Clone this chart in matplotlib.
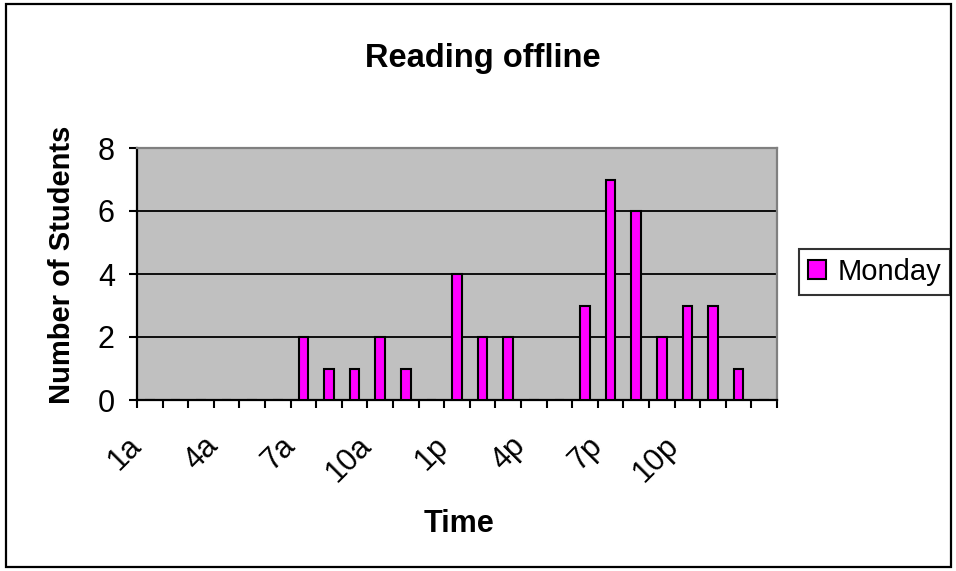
import matplotlib.pyplot as plt
from matplotlib.patches import Rectangle
from matplotlib.transforms import ScaledTranslation
import numpy as np

plt.rcParams['font.family'] = ['Liberation Sans', 'DejaVu Sans']

# one slot per hour of the day, plus an empty slot at the end
hours = ['1a', '2a', '3a', '4a', '5a', '6a', '7a', '8a', '9a', '10a', '11a', '12p',
         '1p', '2p', '3p', '4p', '5p', '6p', '7p', '8p', '9p', '10p', '11p', '12a', '']
monday = [0, 0, 0, 0, 0, 0, 2, 1, 1, 2, 1, 0,
          4, 2, 2, 0, 0, 3, 7, 6, 2, 3, 3, 1, 0]
y_ticks = [0, 2, 4, 6, 8]

W, H = 956, 571
fig = plt.figure(figsize=(W / 100, H / 100), dpi=100)
ax = fig.add_axes([137 / W, 1 - 400 / H, (777 - 137) / W, (400 - 148) / H])
ax.set_facecolor('#c0c0c0')

x = np.arange(len(hours))
bars = ax.bar(x, monday, width=0.38, color='#ff00ff', edgecolor='black',
              linewidth=1.5, zorder=3, label='Monday')

ax.set_xlim(-0.5, len(hours) - 0.5)
ax.set_ylim(0, 8)
ax.set_yticks(y_ticks)
ax.set_yticklabels([str(v) for v in y_ticks], fontsize=22)
for v in y_ticks[1:-1]:
    ax.axhline(v, color='black', lw=1.3, zorder=1)

# tick marks between categories, labels on every third hour
ax.set_xticks(np.arange(len(hours) + 1) - 0.5)
ax.set_xticklabels([])
ax.set_xticks(x, minor=True)
ax.set_xticklabels([h if i % 3 == 0 else '' for i, h in enumerate(hours)],
                   minor=True, fontsize=22, rotation=45, ha='right',
                   va='center', rotation_mode='anchor')
ax.tick_params(axis='x', which='minor', length=0, pad=30)
ax.tick_params(axis='x', which='major', length=6, width=1.5, direction='out')
ax.tick_params(axis='y', length=6, width=1.5, direction='out', pad=10)
shift = ScaledTranslation(-13 / 100, 0, fig.dpi_scale_trans)
for lab in ax.get_xticklabels(minor=True):
    lab.set_transform(lab.get_transform() + shift)

for side in ('left', 'bottom'):
    ax.spines[side].set_color('black')
    ax.spines[side].set_linewidth(1.6)
for side in ('top', 'right'):
    ax.spines[side].set_color('#808080')
    ax.spines[side].set_linewidth(1.6)

fig.text(483 / W, 1 - 58 / H, 'Reading offline', ha='center', va='center',
         fontsize=23.5, fontweight='bold')
fig.text(62 / W, 1 - 265 / H, 'Number of Students', ha='center', va='center',
         rotation=90, fontsize=21, fontweight='bold')
fig.text(459 / W, 1 - 524 / H, 'Time', ha='center', va='center',
         fontsize=22, fontweight='bold')

leg = fig.legend(handles=[bars], loc='center left',
                 bbox_to_anchor=(799 / W, 1 - 272 / H), fontsize=21,
                 frameon=True, fancybox=False, borderaxespad=0,
                 handlelength=0.62, handleheight=0.62, handletextpad=0.4,
                 borderpad=0.3)
leg.get_frame().set_edgecolor('black')
leg.get_frame().set_linewidth(1.5)

fig.patches.append(Rectangle((6 / W, 4 / H), (951 - 6) / W, (567 - 4) / H,
                             transform=fig.transFigure, fill=False,
                             edgecolor='black', linewidth=1.6))

fig.savefig('out.png', dpi=100)
